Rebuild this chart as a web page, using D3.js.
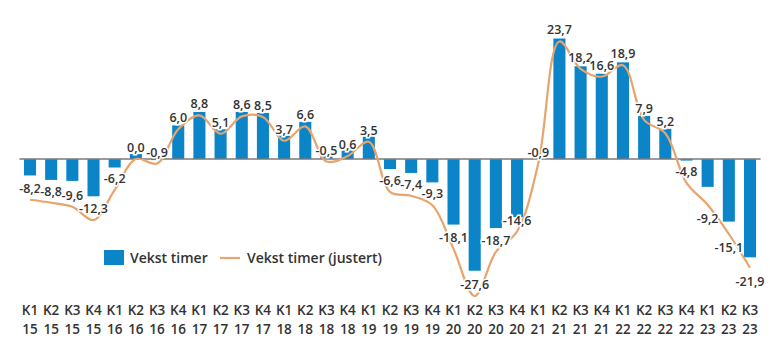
<html>
<head>
<script src="https://cdn.jsdelivr.net/npm/d3@7"></script>
<style>
  body { margin: 0; background: #fff; }
  text { font-family: "Open Sans", sans-serif; fill: #333; }
</style>
</head>
<body>
<script>
// quarters and years (x axis)
var quarters = ["K1","K2","K3","K4","K1","K2","K3","K4","K1","K2","K3","K4","K1","K2","K3","K4",
                "K1","K2","K3","K4","K1","K2","K3","K4","K1","K2","K3","K4","K1","K2","K3","K4",
                "K1","K2","K3"];
var years = ["15","15","15","15","16","16","16","16","17","17","17","17","18","18","18","18",
             "19","19","19","19","20","20","20","20","21","21","21","21","22","22","22","22",
             "23","23","23"];

// Vekst timer (bars)
var vekst = [-3.3,-4.2,-4.4,-7.5,-1.7,1.0,-0.2,6.8,9.5,6.0,9.5,9.3,4.7,7.5,0.5,1.7,
             4.5,-2.0,-2.8,-4.7,-13.2,-22.5,-13.9,-11.7,0.0,24.3,18.7,17.2,19.5,8.7,6.1,-0.3,
             -5.6,-12.6,-19.8];

// Vekst timer (justert) (line, labelled)
var justert = [-8.2,-8.8,-9.6,-12.3,-6.2,0.0,-0.9,6.0,8.8,5.1,8.6,8.5,3.7,6.6,-0.5,0.6,
               3.5,-6.6,-7.4,-9.3,-18.1,-27.6,-18.7,-14.6,-0.9,23.7,18.2,16.6,18.9,7.9,5.2,-4.8,
               -9.2,-15.1,-21.9];

var labelBelow = [32, 33, 34];

var width = 770, height = 353;
var keys = quarters.map(function (q, i) { return i; });

var svg = d3.select("body").append("svg")
    .attr("width", width)
    .attr("height", height);

var x = d3.scaleBand()
    .domain(keys)
    .range([19.4, 760.6])
    .paddingInner(0.43)
    .paddingOuter(0.215);

var y = d3.scaleLinear()
    .domain([-28, 24])
    .range([298, 40]);

var cx = function (i) { return x(i) + x.bandwidth() / 2; };

// bars
svg.append("g").selectAll("rect")
    .data(vekst)
    .enter()
    .append("rect")
    .attr("x", function (d, i) { return x(i); })
    .attr("width", x.bandwidth())
    .attr("y", function (d) { return y(Math.max(0, d)); })
    .attr("height", function (d) { return Math.abs(y(d) - y(0)); })
    .attr("fill", "#0b85c8");

// zero line
svg.append("line")
    .attr("x1", 19.4).attr("x2", 760.6)
    .attr("y1", y(0)).attr("y2", y(0))
    .attr("stroke", "#7a7a7a")
    .attr("stroke-width", 1.5);

// smoothed line
var line = d3.line()
    .x(function (d, i) { return cx(i); })
    .y(function (d) { return y(d); })
    .curve(d3.curveCatmullRom.alpha(0.5));

svg.append("path")
    .datum(justert)
    .attr("fill", "none")
    .attr("stroke", "#e8a46c")
    .attr("stroke-width", 2.2)
    .attr("d", line);

// value labels
svg.append("g").selectAll("text")
    .data(justert)
    .enter()
    .append("text")
    .attr("x", function (d, i) { return cx(i); })
    .attr("y", function (d, i) {
        return labelBelow.indexOf(i) >= 0 ? y(d) + 18 : y(d) - 7;
    })
    .attr("text-anchor", "middle")
    .attr("font-size", 12.5)
    .attr("font-weight", 600)
    .attr("stroke", "#fff")
    .attr("stroke-width", 3)
    .attr("paint-order", "stroke")
    .text(function (d) { return d3.format(".1f")(d).replace(".", ",").replace("−", "-"); });

// x axis labels (two rows)
var axis = svg.append("g");
axis.selectAll("text.q")
    .data(quarters)
    .enter()
    .append("text")
    .attr("class", "q")
    .attr("x", function (d, i) { return cx(i); })
    .attr("y", 315)
    .attr("text-anchor", "middle")
    .attr("font-size", 13.5)
    .attr("font-weight", 600)
    .text(function (d) { return d; });
axis.selectAll("text.yr")
    .data(years)
    .enter()
    .append("text")
    .attr("class", "yr")
    .attr("x", function (d, i) { return cx(i); })
    .attr("y", 334)
    .attr("text-anchor", "middle")
    .attr("font-size", 13.5)
    .attr("font-weight", 600)
    .text(function (d) { return d; });

// legend
var lg = svg.append("g");
lg.append("rect")
    .attr("x", 104).attr("y", 250)
    .attr("width", 20).attr("height", 15)
    .attr("fill", "#0b85c8");
lg.append("text")
    .attr("x", 130).attr("y", 263)
    .attr("font-size", 14).attr("font-weight", 600)
    .text("Vekst timer");
lg.append("line")
    .attr("x1", 220).attr("x2", 240)
    .attr("y1", 258).attr("y2", 258)
    .attr("stroke", "#e8a46c")
    .attr("stroke-width", 2.2);
lg.append("text")
    .attr("x", 247).attr("y", 263)
    .attr("font-size", 14).attr("font-weight", 600)
    .text("Vekst timer (justert)");
</script>
</body>
</html>
